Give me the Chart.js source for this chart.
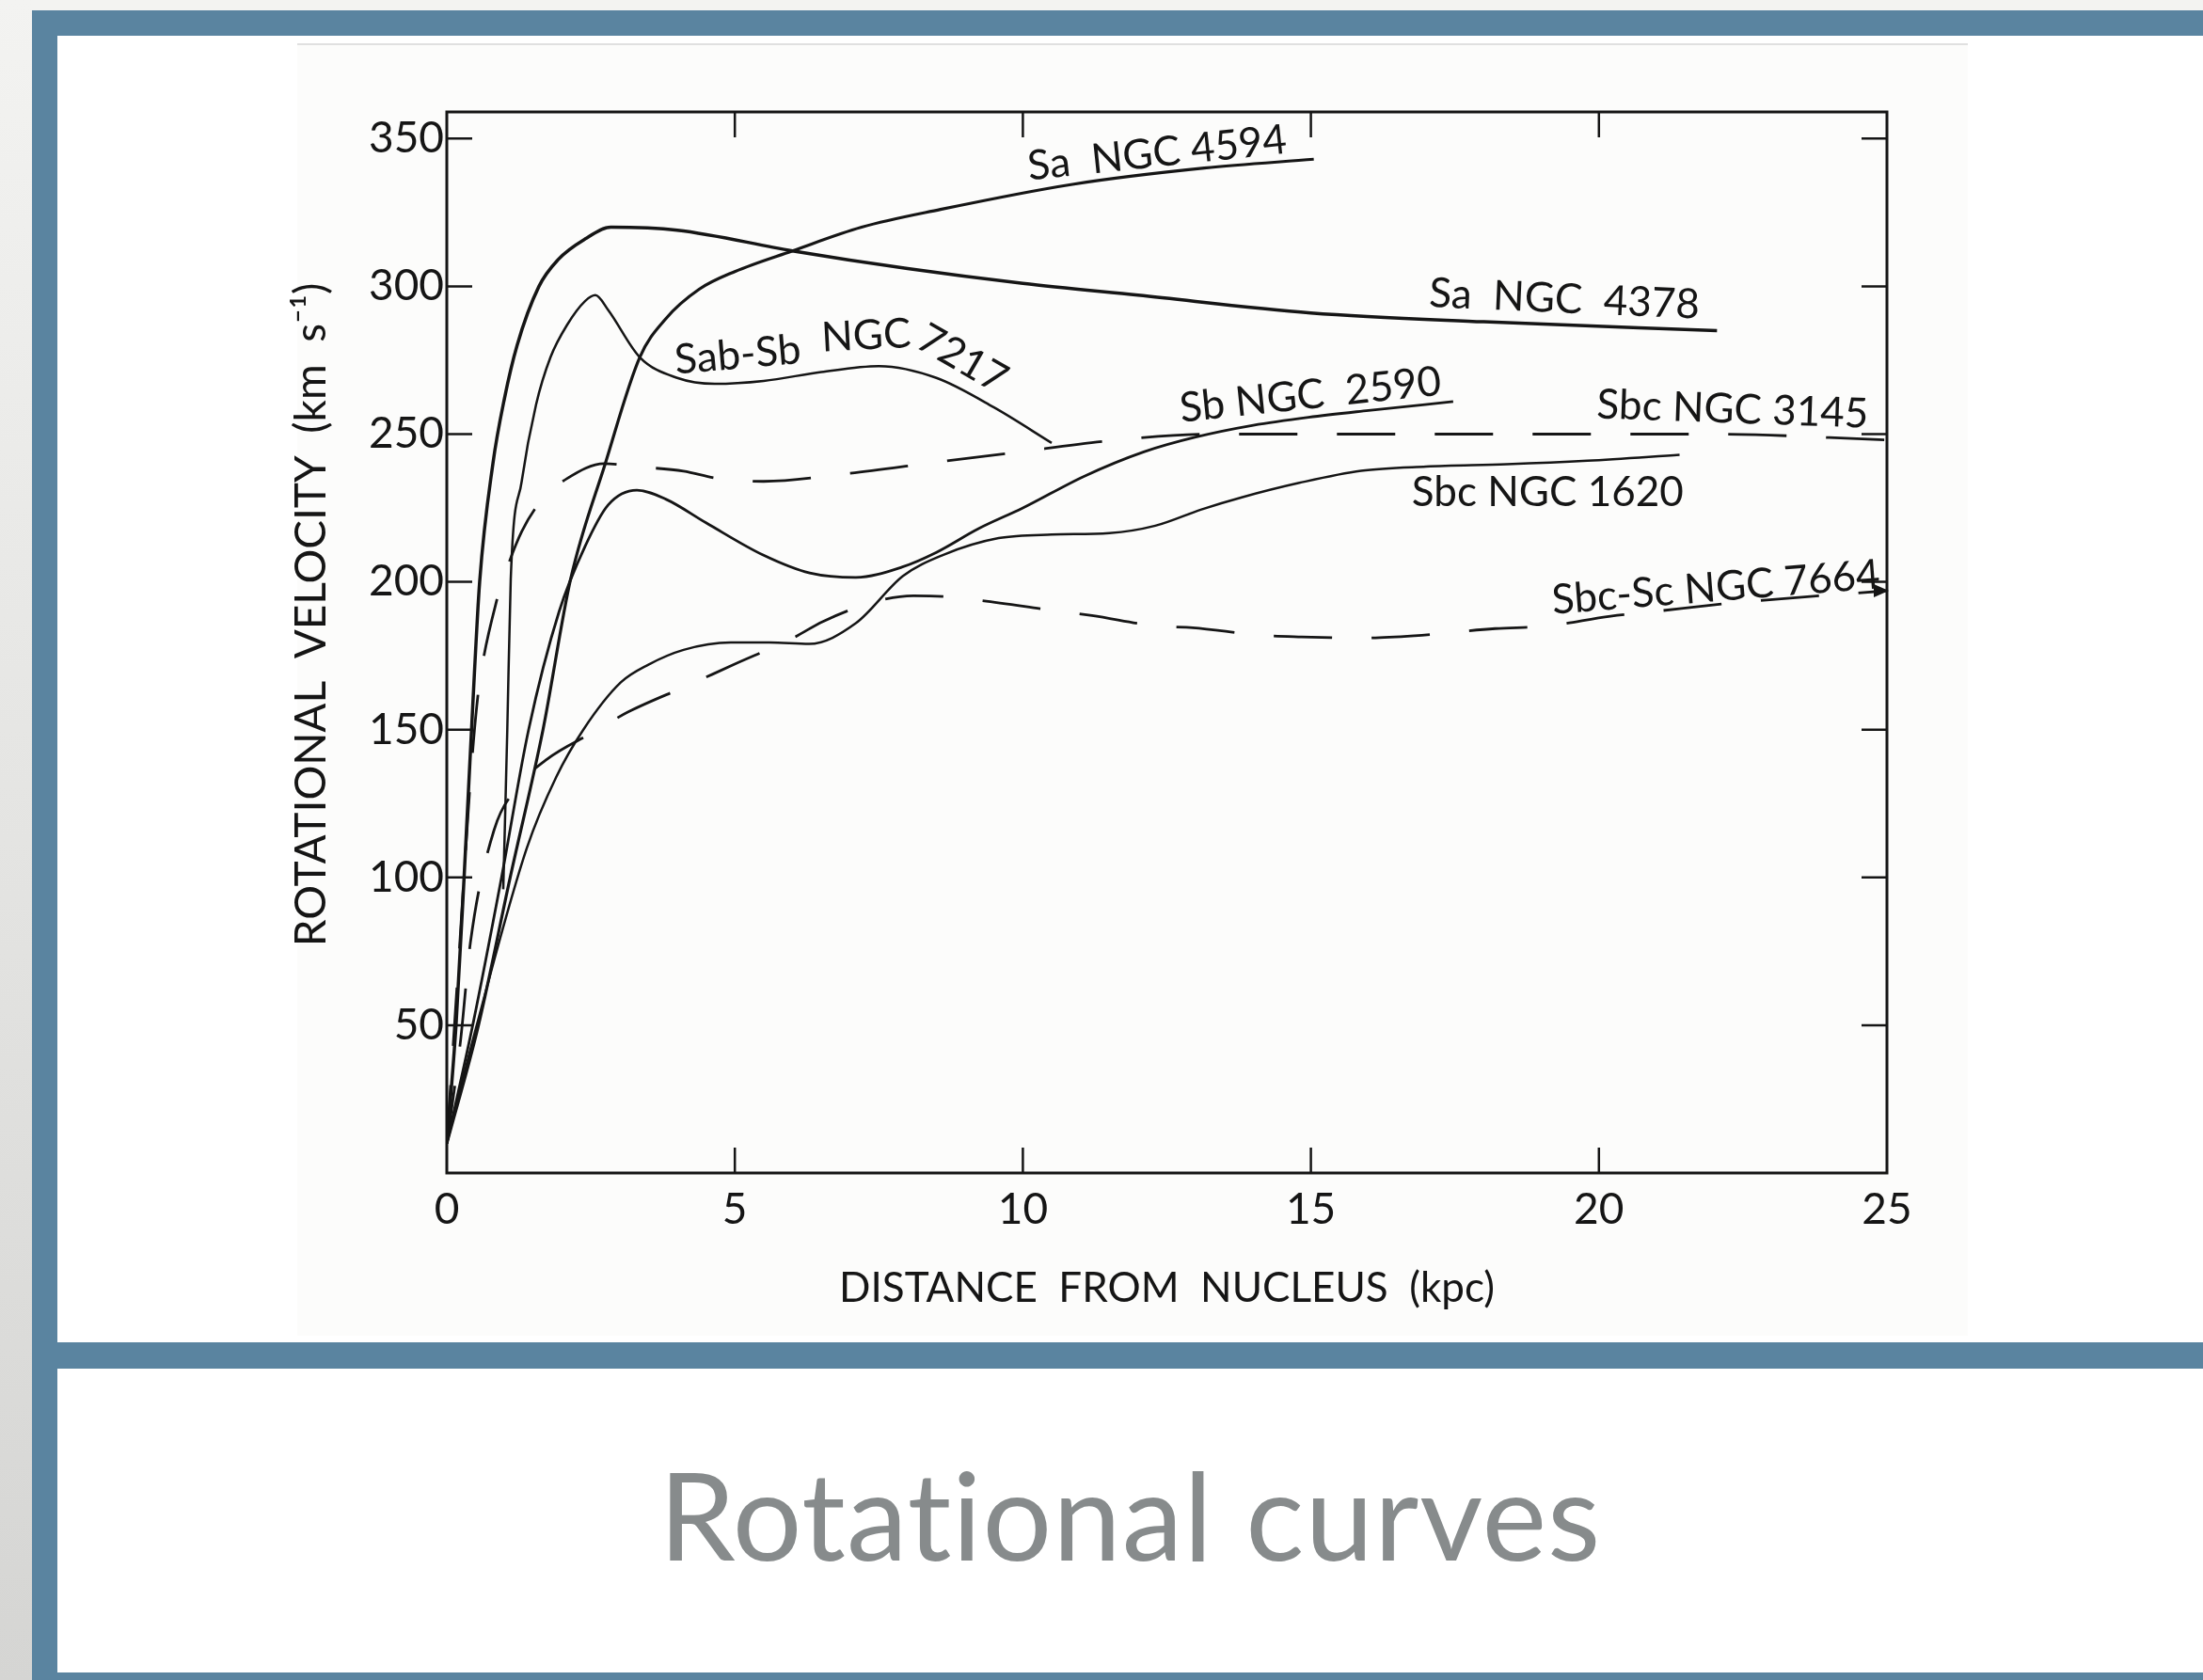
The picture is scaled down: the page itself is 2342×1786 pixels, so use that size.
<!DOCTYPE html>
<html>
<head>
<meta charset="utf-8">
<script src="https://cdn.jsdelivr.net/npm/chart.js@4.4.1/dist/chart.umd.min.js"></script>
<style>
    html, body { margin: 0; padding: 0; }
    body { width: 2342px; height: 1786px; position: relative; overflow: hidden; background: #f3f3f1; font-family: Lato, sans-serif; }
    #strip { position: absolute; left: 0; top: 0; width: 34px; height: 1786px; background: linear-gradient(#f3f3f1, #d5d5d3); }
    #frame { position: absolute; left: 34px; top: 11px; width: 2308px; height: 1775px; background: #5a84a0; }
    .panel { position: absolute; left: 61px; right: 0; background: #fff; }
    #panelTop { top: 38px; height: 1389px; }
    #panelBottom { top: 1455px; height: 323px; }
    #figure { position: absolute; left: 316px; top: 46px; width: 1776px; height: 1374px; background: #fcfcfb; border-top: 2px solid #e0e0e0; box-sizing: border-box; }
    #chartBox { position: absolute; left: 300px; top: 46px; }
    #caption { position: absolute; left: 61px; right: 0; top: 1544px; text-align: center; font-family: Lato, sans-serif; font-size: 130px; line-height: 130px; letter-spacing: 1px; font-variant-ligatures: none; font-feature-settings: "liga" 0; color: #878b8c; }
</style>
</head>
<body>
<div id="strip"></div>
<div id="frame"></div>
<div class="panel" id="panelTop"></div>
<div class="panel" id="panelBottom"></div>
<div id="figure"></div>
<div id="chartBox"><canvas id="chartCurves" width="1792" height="1374"></canvas></div>
<div id="caption">Rotational curves</div>

<script>
// axis ticks
const xTicks = [0, 5, 10, 15, 20, 25];
const yTicks = [50, 100, 150, 200, 250, 300, 350];

// curves: [distance kpc, velocity km/s]
const sa4378 = [[0, 10], [0.16, 50], [0.3, 100], [0.45, 158], [0.57, 200], [0.8, 240], [1.0, 262], [1.22, 280], [1.6, 300], [1.93, 309], [2.4, 316], [2.85, 320], [4, 319], [6, 312], [8, 306], [10, 301], [12, 297], [15, 291], [18, 288], [22.05, 285]];
const sa4594 = [[0, 10], [0.55, 50], [1.1, 100], [1.67, 150], [2.15, 201], [2.75, 240], [3.35, 276], [3.8, 289], [4.38, 299], [5, 305], [6, 312], [7.2, 320], [8.57, 326], [10.86, 334.5], [13.15, 340], [15.05, 343]];
const sab7217 = [[0.98, 96], [1.05, 150], [1.11, 201], [1.3, 234], [1.55, 260], [1.8, 276], [2.09, 287], [2.4, 295], [2.58, 297], [2.8, 292], [3.35, 276], [4, 269], [4.65, 267], [5.5, 268], [6.5, 271], [7.5, 273], [8.5, 269], [9.5, 259], [10.5, 247]];
const sb2590 = [[0, 10], [0.45, 50], [0.95, 100], [1.42, 150], [1.95, 190], [2.4, 212], [2.8, 226], [3.3, 231], [3.8, 228], [4.5, 220], [5.5, 209], [6.3, 203], [7.1, 201.5], [7.9, 205], [8.5, 210], [9.23, 218], [10, 225], [11.06, 235.7], [12.1, 244], [13, 249], [14, 253], [14.96, 255.7], [16, 258], [17.47, 261]];
const sbc1620 = [[0, 10], [0.52, 50], [1.39, 110], [1.9, 134], [2.37, 150], [3.02, 166], [3.5, 172], [4.11, 177], [4.93, 179.5], [5.6, 179.5], [6.29, 179], [7.1, 186], [7.92, 202], [8.6, 209], [9.58, 214.8], [10.5, 216], [11.5, 216.5], [12.3, 219], [13.1, 224.5], [13.8, 228.6], [14.8, 233.5], [15.87, 237.6], [17, 239], [18.4, 239.8], [19.8, 241], [21.4, 243]];
const sbc3145 = [[0, 10], [0.2, 70], [0.41, 133], [0.52, 158], [0.6, 170], [0.87, 194], [0.98, 201], [1.3, 217], [1.66, 228], [2.09, 235], [2.73, 240], [3.27, 239], [4.11, 237.5], [4.7, 235], [5.5, 234], [6.94, 236.6], [8.5, 240.5], [9.8, 243.6], [11.5, 247.7], [13.2, 250], [16, 250], [19, 250], [22, 250], [25, 248]];
const sc7664 = [[0, 10], [0.24, 45], [0.41, 78], [0.82, 116], [1.25, 131], [1.74, 140], [2.53, 149], [3.15, 156], [4.19, 165], [4.98, 172], [6.01, 181], [6.53, 186.6], [7.49, 193.6], [8.1, 195.3], [8.66, 195], [9.3, 193.6], [10.4, 190.7], [11.2, 188.6], [12.35, 185], [12.95, 184.5], [14.1, 182], [14.84, 181.4], [15.87, 181], [16.8, 181.8], [18.2, 184.2], [19.07, 185], [20.2, 188.4], [20.97, 190], [22.4, 193], [25, 197]];

// hand lettering on the curves
const curveLabels = [
    { text: 'Sa  NGC 4594', x: 12.33, y: 345, rot: -6 },
    { text: 'Sa  NGC  4378', x: 19.4, y: 295.6, rot: 2.5 },
    { text: 'Sab-Sb', x: 5.05, y: 276.7, rot: -5 },
    { text: 'NGC', x: 7.28, y: 283.2, rot: -3 },
    { text: '7217', x: 8.95, y: 275.5, rot: 30 },
    { text: 'Sb NGC  2590', x: 14.99, y: 263.2, rot: -6 },
    { text: 'Sbc NGC 3145', x: 22.32, y: 258.3, rot: 2 },
    { text: 'Sbc NGC 1620', x: 19.11, y: 230.3, rot: 0 },
    { text: 'Sbc-Sc NGC 7664', x: 22.03, y: 198, rot: -4.5 }
];

const INK = '#151515';

function curve(points, width, dashed) {
    return {
        data: points.map(p => ({ x: p[0], y: p[1] })),
        borderColor: INK,
        borderWidth: width,
        borderDash: dashed ? [62, 42] : [],
        cubicInterpolationMode: 'monotone',
        pointRadius: 0,
        fill: false
    };
}

// box round the plot with inward ticks on all four sides
const frameTicks = {
    id: 'frameTicks',
    afterDatasetsDraw(chart) {
        const { ctx, chartArea: a, scales: { x, y } } = chart;
        const len = 27;
        ctx.save();
        ctx.strokeStyle = INK;
        ctx.lineWidth = 3;
        ctx.strokeRect(a.left, a.top, a.right - a.left, a.bottom - a.top);
        ctx.lineWidth = 2.5;
        ctx.beginPath();
        xTicks.slice(1, -1).forEach(v => {
            const px = x.getPixelForValue(v);
            ctx.moveTo(px, a.bottom); ctx.lineTo(px, a.bottom - len);
            ctx.moveTo(px, a.top); ctx.lineTo(px, a.top + len);
        });
        yTicks.forEach(v => {
            const py = y.getPixelForValue(v);
            ctx.moveTo(a.left, py); ctx.lineTo(a.left + len, py);
            ctx.moveTo(a.right, py); ctx.lineTo(a.right - len, py);
        });
        ctx.stroke();
        // little arrow where NGC 7664 runs off the right edge
        const ay = y.getPixelForValue(sc7664[sc7664.length - 1][1]);
        ctx.fillStyle = INK;
        ctx.beginPath();
        ctx.moveTo(a.right + 2, ay);
        ctx.lineTo(a.right - 14, ay - 7);
        ctx.lineTo(a.right - 14, ay + 7);
        ctx.closePath();
        ctx.fill();
        ctx.restore();
    }
};

const labelCurves = {
    id: 'labelCurves',
    afterDatasetsDraw(chart) {
        const { ctx, scales: { x, y } } = chart;
        ctx.save();
        ctx.fillStyle = INK;
        ctx.font = '44px Lato, sans-serif';
        ctx.textAlign = 'center';
        ctx.textBaseline = 'middle';
        curveLabels.forEach(l => {
            ctx.save();
            ctx.translate(x.getPixelForValue(l.x), y.getPixelForValue(l.y));
            ctx.rotate(l.rot * Math.PI / 180);
            ctx.fillText(l.text, 0, 0);
            ctx.restore();
        });
        ctx.restore();
    }
};

new Chart(document.getElementById('chartCurves').getContext('2d'), {
    type: 'line',
    data: {
        datasets: [
            curve(sa4378, 3.5, false),
            curve(sa4594, 3.2, false),
            curve(sab7217, 2.5, false),
            curve(sb2590, 2.8, false),
            curve(sbc1620, 2.5, false),
            curve(sbc3145, 2.8, true),
            curve(sc7664, 2.8, true)
        ]
    },
    options: {
        responsive: false,
        animation: false,
        devicePixelRatio: 1,
        layout: { padding: { top: 73, right: 86, left: 0, bottom: 0 } },
        plugins: { legend: { display: false }, tooltip: { enabled: false } },
        scales: {
            x: {
                type: 'linear', min: 0, max: 25,
                grid: { display: false, drawTicks: false },
                border: { display: false },
                afterBuildTicks: s => { s.ticks = xTicks.map(v => ({ value: v })); },
                afterFit: s => { s.height = 173; },
                ticks: { color: INK, font: { family: 'Lato', size: 46 }, padding: 12, maxRotation: 0, autoSkip: false },
                title: { display: true, text: 'DISTANCE  FROM  NUCLEUS  (kpc)', color: INK, font: { family: 'Lato', size: 44 }, padding: { top: 0, bottom: 24 } }
            },
            y: {
                min: 0, max: 359,
                grid: { display: false, drawTicks: false },
                border: { display: false },
                afterBuildTicks: s => { s.ticks = yTicks.map(v => ({ value: v })); },
                afterFit: s => { s.width = 175; },
                ticks: { color: INK, font: { family: 'Lato', size: 46 }, padding: 3, autoSkip: false },
                // leading blanks lift the rotated title to where the original sits
                title: { display: true, text: '     ROTATIONAL  VELOCITY  (km  s\u207B\u00B9)', color: INK, font: { family: 'Lato', size: 46 }, padding: { top: 4, bottom: 0 } }
            }
        }
    },
    plugins: [frameTicks, labelCurves]
});
</script>
</body>
</html>
